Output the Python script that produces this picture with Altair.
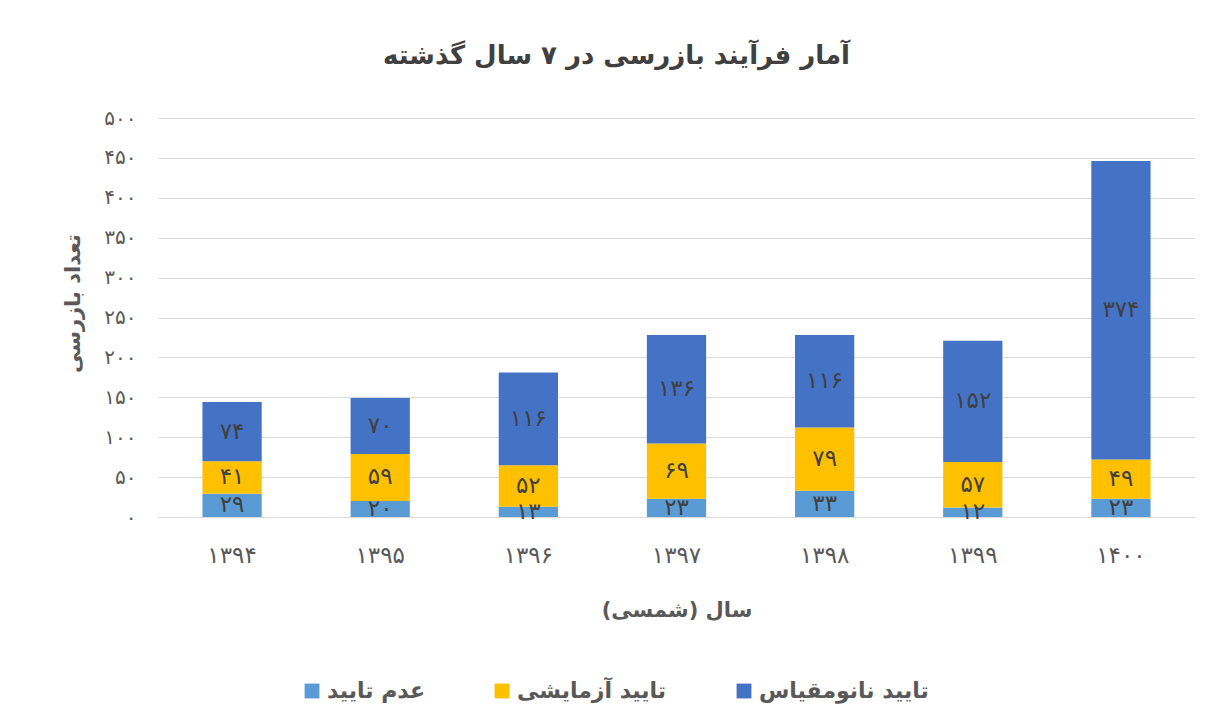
import altair as alt
import pandas as pd

years = ["1394", "1395", "1396", "1397", "1398", "1399", "1400"]
rejected = [29, 20, 13, 23, 33, 12, 23]
trial = [41, 59, 52, 69, 79, 57, 49]
nano = [74, 70, 116, 136, 116, 152, 374]
series = ["عدم تایید", "تایید آزمایشی", "تایید نانومقیاس"]
colors = ["#5B9BD5", "#FFC000", "#4472C4"]
y_ticks = list(range(0, 501, 50))

FA = str.maketrans("0123456789", "۰۱۲۳۴۵۶۷۸۹")


def fa(s):
    return str(s).translate(FA)


rows = []
for i, yr in enumerate(years):
    for k, (name, vals) in enumerate(zip(series, [rejected, trial, nano])):
        rows.append({"year": fa(yr), "series": name, "order": k,
                     "value": vals[i], "label": fa(vals[i])})
df = pd.DataFrame(rows)
year_order = [fa(y) for y in years]

label_expr = ""
for t in y_ticks:
    label_expr += f"datum.value == {t} ? '{fa(t)}' : "
label_expr += "datum.label"

FONT = "DejaVu Sans"
GRAY = "#595959"

x_axis = alt.Axis(title="سال (شمسی)", labelAngle=0, labelFontSize=23,
                  labelColor=GRAY, labelPadding=27, ticks=False,
                  domainColor="#D9D9D9", titleFontSize=21,
                  titleColor=GRAY, titlePadding=32, titleFontWeight="bold")
y_axis = alt.Axis(values=y_ticks, tickCount=11, labelExpr=label_expr,
                  title="تعداد بازرسی", labelOverlap=False,
                  labelFontSize=20, labelColor=GRAY, labelPadding=22,
                  ticks=False, domain=False, gridColor="#D9D9D9",
                  titleFontSize=21, titleColor=GRAY, titlePadding=20,
                  titleY=185, titleFontWeight="bold")
x_scale = alt.Scale(paddingInner=0.6, paddingOuter=0.3)
y_scale = alt.Scale(domain=[0, 500])

bars = alt.Chart(df).mark_bar().encode(
    x=alt.X("year:N", sort=year_order, scale=x_scale, axis=x_axis),
    y=alt.Y("value:Q", stack="zero", scale=y_scale, axis=y_axis),
    color=alt.Color("series:N", scale=alt.Scale(domain=series, range=colors),
                    legend=alt.Legend(title=None, orient="none", direction="horizontal",
                                      legendX=143, legendY=562,
                                      labelFontSize=22, labelColor=GRAY,
                                      labelFontWeight="bold", labelLimit=400,
                                      symbolType="square", symbolSize=220,
                                      symbolStrokeWidth=0, columnPadding=66)),
    order=alt.Order("order:Q"),
)

texts = alt.Chart(df).transform_stack(
    stack="value", groupby=["year"], sort=[alt.SortField("order")], as_=["y0", "y1"]
).transform_calculate(
    mid="(datum.y0 + datum.y1) / 2"
).mark_text(fontSize=23, color="#404040", font=FONT, baseline="middle").encode(
    x=alt.X("year:N", sort=year_order, scale=x_scale, axis=x_axis),
    y=alt.Y("mid:Q", scale=y_scale, axis=y_axis),
    text="label:N",
)

chart = alt.layer(bars, texts).properties(
    width=1037, height=399,
    title=alt.TitleParams("آمار فرآیند بازرسی در ۷ سال گذشته", fontSize=26,
                          color="#404040", font=FONT, fontWeight="bold",
                          anchor="middle", offset=39, dx=-60),
    autosize=alt.AutoSizeParams(type="none"),
    padding={"left": 150, "top": 110, "right": 5, "bottom": 201},
).configure(font=FONT).configure_view(stroke=None)

chart.save("out.html", embed_options={"renderer": "svg", "actions": False})
